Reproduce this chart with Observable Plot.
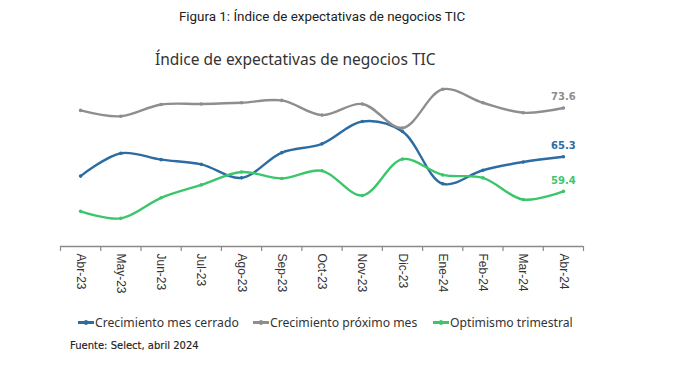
<!DOCTYPE html>
<html><head><meta charset="utf-8">
<script src="https://cdn.jsdelivr.net/npm/d3@7"></script>
<script src="https://cdn.jsdelivr.net/npm/@observablehq/plot@0.6"></script>
<style>
body{margin:0;background:#fff;width:678px;height:368px;overflow:hidden;position:relative;}
.caption{position:absolute;left:0;width:644px;top:9px;text-align:center;font:13.4px Roboto,sans-serif;color:#222;}
.title{position:absolute;left:155px;top:48px;font:15.5px "Noto Sans",sans-serif;color:#333;}
#chart{position:absolute;left:0;top:66px;}
.legend{position:absolute;left:78px;top:314px;font:12.2px "Noto Sans",sans-serif;color:#333;height:18px;}
.legend .item{position:absolute;top:0;display:flex;align-items:center;white-space:nowrap;}
.legend .sw{width:16px;height:2.5px;position:relative;margin-right:1px;}
.legend .sw::after{content:"";position:absolute;left:6px;top:-1px;width:4px;height:4.5px;border-radius:50%;background:inherit;}
.source{position:absolute;left:70px;top:340px;font:10px "DejaVu Sans",sans-serif;color:#222;-webkit-text-stroke:0.15px #222;}
</style></head>
<body>
<div class="caption">Figura 1: Índice de expectativas de negocios TIC</div>
<div class="title">Índice de expectativas de negocios TIC</div>
<div id="chart"></div>
<div class="legend" id="legend"></div>
<div class="source">Fuente: Select, abril 2024</div>
<script>
const months = ["Abr-23","May-23","Jun-23","Jul-23","Ago-23","Sep-23","Oct-23","Nov-23","Dic-23","Ene-24","Feb-24","Mar-24","Abr-24"];
const seriesNames = ["Crecimiento mes cerrado","Crecimiento próximo mes","Optimismo trimestral"];
const seriesColors = ["#2b6ca3","#8e8e8e","#3cc66b"];
const crecimientoMesCerrado = [62.0,65.9,64.8,64.0,61.7,66.0,67.5,71.3,69.6,60.7,63.0,64.4,65.3];
const crecimientoProximoMes = [73.2,72.2,74.2,74.3,74.5,74.9,72.4,74.3,70.2,76.8,74.5,72.8,73.6];
const optimismoTrimestral = [56.0,54.8,58.3,60.5,62.7,61.6,62.9,58.7,64.9,62.2,61.7,58.0,59.4];
const yDomain = [50, 80];

const allValues = [crecimientoMesCerrado, crecimientoProximoMes, optimismoTrimestral];
const data = [];
allValues.forEach((vals, s) => vals.forEach((v, i) => data.push({i, v, s: seriesNames[s]})));
const lastPoints = allValues.map((vals, s) => ({i: vals.length - 1, v: vals[vals.length - 1], s: seriesNames[s]}));
const idx = months.map((_, i) => i);
const bounds = d3.range(-0.5, months.length, 1);

const color = {domain: seriesNames, range: seriesColors};

const plot = Plot.plot({
  width: 678, height: 236,
  marginLeft: 60, marginRight: 95, marginTop: 4, marginBottom: 56,
  x: {domain: [-0.5, months.length - 0.5], axis: null, label: null},
  y: {domain: yDomain, axis: null, label: null},
  color,
  style: {fontFamily: "Liberation Sans, Arial, sans-serif", background: "transparent"},
  marks: [
    Plot.ruleY([yDomain[0]], {stroke: "#8a8a8a", strokeWidth: 1.5}),
    Plot.axisX(bounds, {label: null, tickSize: 5, tickFormat: () => "", stroke: "#8a8a8a", strokeWidth: 1.2}),
    Plot.axisX(idx, {label: null, tickSize: 0, tickPadding: 7, tickRotate: 90, tickFormat: i => months[i], fontSize: 12, fill: "#333"}),
    Plot.line(data, {x: "i", y: "v", z: "s", stroke: "s", strokeWidth: 2.4, curve: "catmull-rom"}),
    Plot.dot(data, {x: "i", y: "v", fill: "s", r: 1.8}),
    Plot.text(lastPoints, {x: "i", y: "v", text: d => d.v.toFixed(1), fill: "s", dy: -11, fontSize: 10, fontWeight: "bold", fontFamily: "DejaVu Sans, sans-serif"})
  ]
});
document.getElementById("chart").appendChild(plot);

const legendOffsets = [0, 175, 355];
const leg = document.getElementById("legend");
seriesNames.forEach((n, k) => {
  const it = document.createElement("div"); it.className = "item"; it.style.left = legendOffsets[k] + "px";
  const sw = document.createElement("span"); sw.className = "sw"; sw.style.background = seriesColors[k];
  const t = document.createElement("span"); t.textContent = n;
  it.appendChild(sw); it.appendChild(t); leg.appendChild(it);
});
</script>
</body></html>
